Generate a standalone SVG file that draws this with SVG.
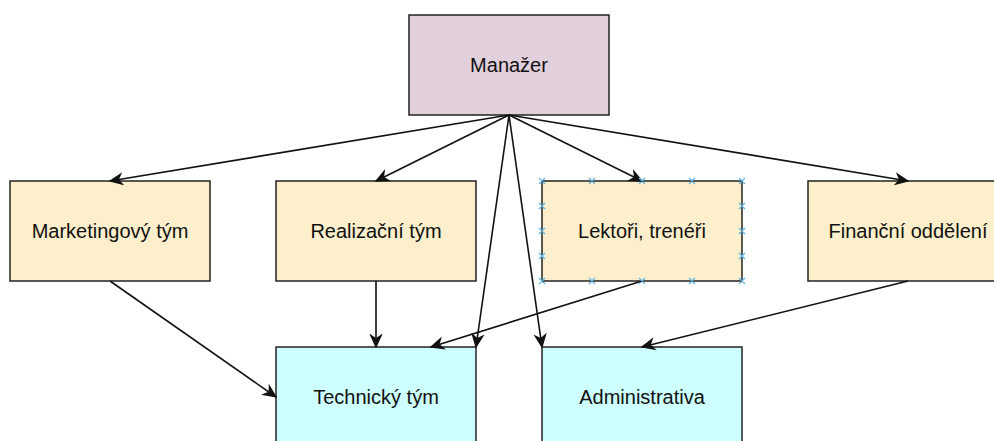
<svg xmlns="http://www.w3.org/2000/svg" width="994" height="441" viewBox="0 0 994 441">
<defs>
<style>
.box{stroke:#222;stroke-width:1.5}
.m{fill:#e2cfdc}
.y{fill:#fdefcb}
.c{fill:#ccfffe}
.t{font-family:"Liberation Sans",Arial,sans-serif;font-size:20px;fill:#111;text-anchor:middle}
.e{fill:none;stroke:#111;stroke-width:1.6;marker-end:url(#arr)}
.h{stroke:#5fb6e8;stroke-width:1.3}
</style>
<marker id="arr" viewBox="0 0 10 10" refX="9" refY="5" markerWidth="15" markerHeight="15" markerUnits="userSpaceOnUse" orient="auto">
<path d="M0,0.5 L10,5 L0,9.5 L3,5 Z" fill="#111"/>
</marker>
</defs>
<rect width="994" height="441" fill="#fff"/>
<g id="n-manazer"><rect class="box m" x="409" y="15" width="200" height="100"/><text class="t" x="509" y="72">Manažer</text></g>
<g id="n-marketing"><rect class="box y" x="10" y="181" width="200" height="100"/><text class="t" x="110" y="238">Marketingový tým</text></g>
<g id="n-realizacni"><rect class="box y" x="276" y="181" width="200" height="100"/><text class="t" x="376" y="238">Realizační tým</text></g>
<g id="n-lektori"><rect class="box y" x="542" y="181" width="200" height="100"/><text class="t" x="642" y="238">Lektoři, trenéři</text></g>
<g id="n-financni"><rect class="box y" x="808" y="181" width="200" height="100"/><text class="t" x="908" y="238">Finanční oddělení</text></g>
<g id="n-technicky"><rect class="box c" x="276" y="347" width="200" height="100"/><text class="t" x="376" y="404">Technický tým</text></g>
<g id="n-admin"><rect class="box c" x="542" y="347" width="200" height="100"/><text class="t" x="642" y="404">Administrativa</text></g>
<g id="connectors">
<path class="e" d="M509,115 L110,181"/>
<path class="e" d="M509,115 L376,181"/>
<path class="e" d="M509,115 L642,181"/>
<path class="e" d="M509,115 L908,181"/>
<path class="e" d="M509,115 L476,347"/>
<path class="e" d="M509,115 L542,347"/>
<path class="e" d="M110,281 L276,397"/>
<path class="e" d="M376,281 L376,347"/>
<path class="e" d="M642,281 L431,347"/>
<path class="e" d="M908,281 L642,347"/>
</g>
<g id="selection-handles">
<path class="h" d="M539,178l6,6m0,-6l-6,6 M589,178l6,6m0,-6l-6,6 M639,178l6,6m0,-6l-6,6 M689,178l6,6m0,-6l-6,6 M739,178l6,6m0,-6l-6,6
M539,278l6,6m0,-6l-6,6 M589,278l6,6m0,-6l-6,6 M639,278l6,6m0,-6l-6,6 M689,278l6,6m0,-6l-6,6 M739,278l6,6m0,-6l-6,6
M539,203l6,6m0,-6l-6,6 M539,228l6,6m0,-6l-6,6 M539,253l6,6m0,-6l-6,6
M739,203l6,6m0,-6l-6,6 M739,228l6,6m0,-6l-6,6 M739,253l6,6m0,-6l-6,6"/>
</g>
</svg>
